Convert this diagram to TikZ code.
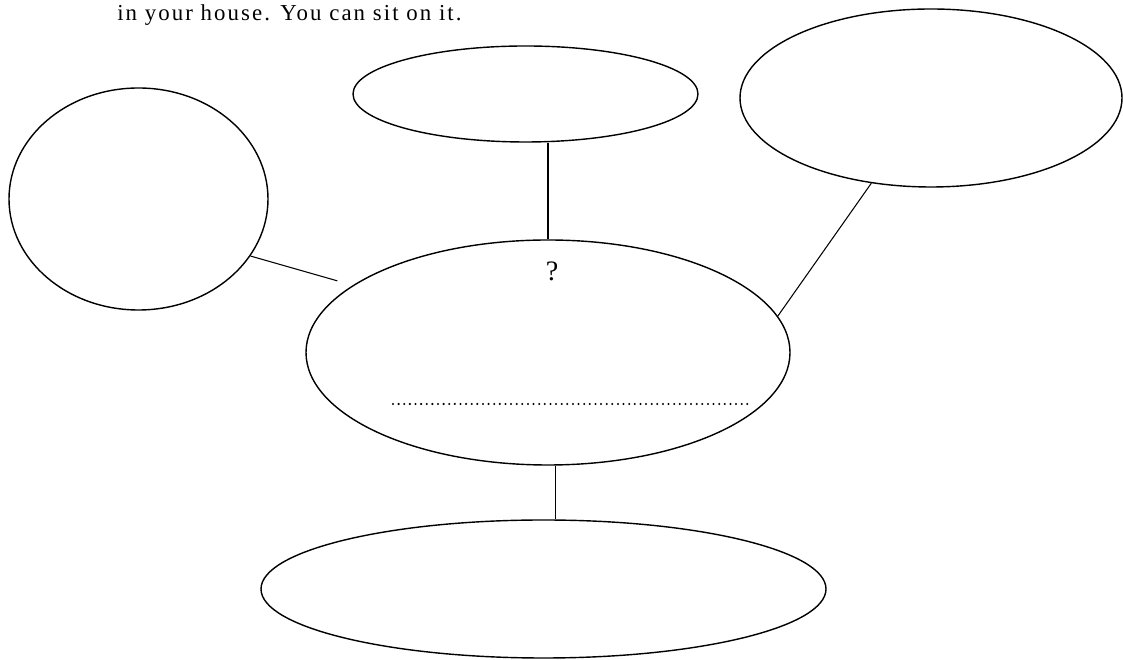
\documentclass[tikz,border=0pt]{standalone}
\usepackage{fontspec}
\setmainfont{Liberation Serif}
\usepackage{tikz}
\usetikzlibrary{shapes.geometric}

\begin{document}
\begin{tikzpicture}[
    x=1cm,y=1cm,
    bubble/.style={draw=black, ellipse, inner sep=0pt, line width=0.8pt},
    link/.style={draw=black, line width=0.6pt},
    blank/.style={draw=black, line width=1.3pt, line cap=round, dash pattern=on 0pt off 3.2pt},
    prompt/.style={font=\fontsize{13}{15}\selectfont\addfontfeature{LetterSpace=9}, inner sep=0pt}
  ]
    \useasboundingbox (0,0) rectangle (22.46,13.2);
    \node[prompt, anchor=base west] (intro) at (2.34,12.78) {in your house. You can sit on it.};

    \node[bubble, minimum width=6.9cm, minimum height=1.92cm] (tope) at (10.51,11.32) {};
    \node[bubble, minimum width=7.64cm, minimum height=3.56cm] (righte) at (18.62,11.24) {};
    \node[bubble, minimum width=5.18cm, minimum height=4.44cm] (lefte) at (2.77,9.22) {};
    \node[bubble, minimum width=9.68cm, minimum height=4.5cm] (centre) at (10.96,6.15) {};
    \node[bubble, minimum width=11.3cm, minimum height=2.76cm] (bote) at (10.87,1.42) {};

    \node[prompt, font=\fontsize{16}{18}\selectfont] (ask) at (11.04,7.78) {?};
    \draw[blank] (7.86,5.12) -- (14.96,5.12);

    \draw[link] (centre.north) -- (centre.north |- tope.south);
    \draw[link, shorten >=0.32cm] (lefte.-27) -- (centre.161);
    \draw[link] (righte.-125) -- (centre.9);
    \draw[link] (centre.-86) -- (centre.-86 |- bote.north);
  \end{tikzpicture}
\end{document}
